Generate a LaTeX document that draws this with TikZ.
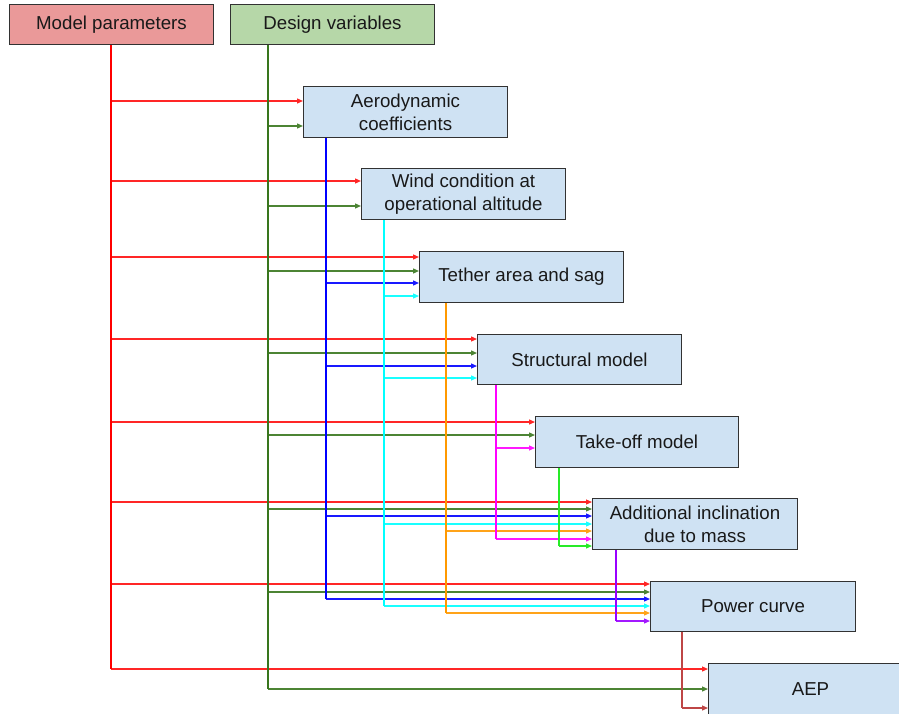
\documentclass[tikz,border=0pt]{standalone}
\usepackage{fontspec}
\setmainfont{Liberation Sans}
\usetikzlibrary{arrows.meta,calc}

\definecolor{mpfill}{RGB}{234,153,153}
\definecolor{dvfill}{RGB}{182,215,168}
\definecolor{boxfill}{RGB}{207,226,243}
\definecolor{boxline}{RGB}{50,50,50}
\definecolor{cRed}{RGB}{255,0,0}
\definecolor{cGreen}{RGB}{56,118,29}
\definecolor{cBlue}{RGB}{0,0,255}
\definecolor{cCyan}{RGB}{0,255,255}
\definecolor{cOrange}{RGB}{255,153,0}
\definecolor{cMagenta}{RGB}{255,0,255}
\definecolor{cLime}{RGB}{40,235,40}
\definecolor{cPurple}{RGB}{153,0,255}
\definecolor{cDark}{RGB}{190,70,70}

\begin{document}
\begin{tikzpicture}[
  x={(1pt,0pt)}, y={(0pt,-1pt)},
  font=\fontsize{18.7}{23}\selectfont,
  box/.style={draw=boxline, line width=1pt, fill=boxfill, anchor=north west,
    minimum width=204pt, minimum height=51pt, inner sep=0pt, align=center,
    text=black!90},
  trunk/.style={line width=1.6pt},
  bigtrunk/.style={line width=2pt},
  branch/.style={line width=1.2pt, -{Triangle[length=6pt,width=5pt]}},
]
\useasboundingbox (0,0) rectangle (899,714);

% input boxes
\node[box, fill=mpfill, minimum height=40pt] (mp) at (9,4) {Model parameters};
\node[box, fill=dvfill, minimum height=40pt] (dv) at (230,4) {Design variables};

% model chain
\node[box] (aero)    at (303,86)  {Aerodynamic\\coefficients};
\node[box] (wind)    at (361,168) {Wind condition at\\operational altitude};
\node[box] (tether)  at (419,251) {Tether area and sag};
\node[box, minimum height=50pt] (struct) at (477,334) {Structural model};
\node[box, minimum width=203pt] (takeoff) at (535,416) {Take-off model};
\node[box, minimum width=205pt] (incl) at (592,498) {Additional inclination\\due to mass};
\node[box, minimum width=205pt, minimum height=50pt] (power) at (650,581) {Power curve};
\node[box] (aep)     at (708,663) {AEP};

% start points of the distribution lines
\coordinate (tR) at ([xshift=-1pt]mp.south);
\coordinate (tG) at ([xshift=38pt]dv.south west);
\coordinate (tB) at ([xshift=23pt]aero.south west);
\coordinate (tC) at ([xshift=23pt]wind.south west);
\coordinate (tO) at ([xshift=27pt]tether.south west);
\coordinate (tM) at ([xshift=19pt]struct.south west);
\coordinate (tL) at ([xshift=24pt]takeoff.south west);
\coordinate (tP) at ([xshift=24pt]incl.south west);
\coordinate (tD) at ([xshift=32pt]power.south west);

% branches into the boxes
\foreach \t/\y in {aero/101, wind/181, tether/257, struct/339, takeoff/422,
                   incl/502, power/584, aep/669}
  \draw[branch, cRed!85] (tR |- 0,\y) -- (\t.west |- 0,\y);
\foreach \t/\y in {aero/126, wind/206, tether/271, struct/353, takeoff/435,
                   incl/509, power/592, aep/689}
  \draw[branch, cGreen!90] (tG |- 0,\y) -- (\t.west |- 0,\y);
\foreach \t/\y in {tether/283, struct/366, incl/516, power/599}
  \draw[branch, cBlue!90] (tB |- 0,\y) -- (\t.west |- 0,\y);
\foreach \t/\y in {tether/296, struct/378, incl/524, power/606}
  \draw[branch, cCyan!90] (tC |- 0,\y) -- (\t.west |- 0,\y);
\foreach \t/\y in {incl/531, power/613}
  \draw[branch, cOrange!90] (tO |- 0,\y) -- (\t.west |- 0,\y);
\foreach \t/\y in {takeoff/448, incl/539}
  \draw[branch, cMagenta!90] (tM |- 0,\y) -- (\t.west |- 0,\y);
\draw[branch, cLime] (tL |- 0,546) -- (incl.west |- 0,546);
\draw[branch, cPurple!90] (tP |- 0,621) -- (power.west |- 0,621);
\draw[branch, cDark] (tD |- 0,708) -- (aep.west |- 0,708);

% vertical trunks
\draw[bigtrunk, cRed]   (tR) -- (tR |- 0,669);
\draw[bigtrunk, cGreen] (tG) -- (tG |- 0,689);
\draw[trunk, cBlue]     (tB) -- (tB |- 0,599);
\draw[trunk, cCyan]     (tC) -- (tC |- 0,606);
\draw[trunk, cOrange]   (tO) -- (tO |- 0,613);
\draw[trunk, cMagenta]  (tM) -- (tM |- 0,539);
\draw[trunk, cLime]     (tL) -- (tL |- 0,546);
\draw[trunk, cPurple]   (tP) -- (tP |- 0,621);
\draw[trunk, cDark]     (tD) -- (tD |- 0,708);
\end{tikzpicture}
\end{document}
